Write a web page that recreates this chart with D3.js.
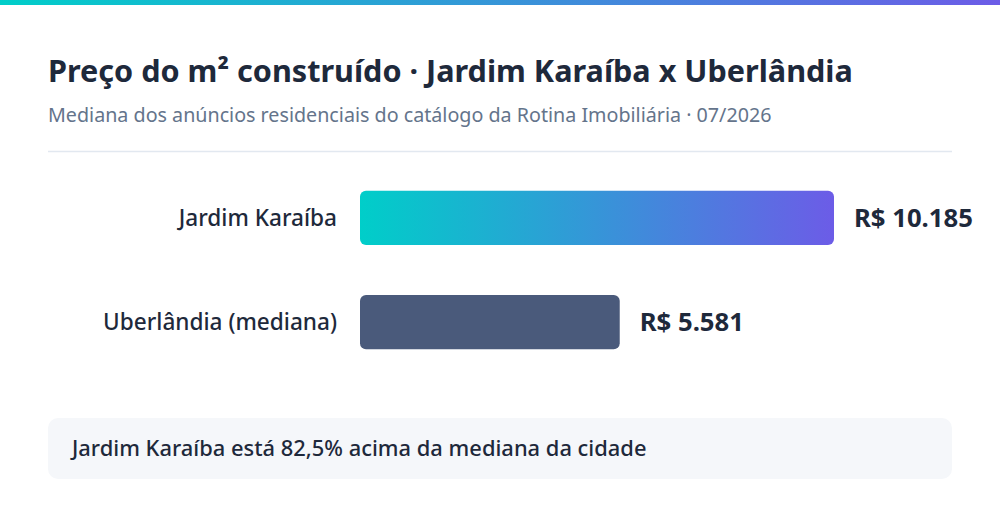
<!DOCTYPE html>
<html lang="pt-BR">
    <head>
        <meta charset="utf-8">
        <title>Preço do m² construído</title>
        <script type="text/javascript" src="https://d3js.org/d3.v7.min.js"></script>
        <style type="text/css">
            body{ margin: 0; background: #fff; }
            svg text{ font-family: "Noto Sans", "Open Sans", sans-serif; }
        </style>
    </head>
    <body>
        <svg id="chart" width="1000" height="520"></svg>
        <script type="text/javascript">
        //data
        const categories = ["Jardim Karaíba", "Uberlândia (mediana)"];
        const prices = [10185, 5581];
        const valueLabels = ["R$ 10.185", "R$ 5.581"];
        const title = "Preço do m² construído · Jardim Karaíba x Uberlândia";
        const subtitle = "Mediana dos anúncios residenciais do catálogo da Rotina Imobiliária · 07/2026";
        const note = "Jardim Karaíba está 82,5% acima da mediana da cidade";

        const svg = d3.select("#chart");
        const w = 1000;
        const defs = svg.append("defs");

        //gradients
        const topGrad = defs.append("linearGradient").attr("id", "topGrad");
        topGrad.append("stop").attr("offset", "0%").attr("stop-color", "#00cec9");
        topGrad.append("stop").attr("offset", "100%").attr("stop-color", "#6c5ce7");
        const barGrad = defs.append("linearGradient").attr("id", "barGrad");
        barGrad.append("stop").attr("offset", "0%").attr("stop-color", "#00cec9");
        barGrad.append("stop").attr("offset", "100%").attr("stop-color", "#6c5ce7");

        svg.append("rect").attr("x", 0).attr("y", 0).attr("width", w).attr("height", 5)
            .attr("fill", "url(#topGrad)");

        //header
        svg.append("text").attr("x", 48).attr("y", 82)
            .attr("font-size", 30.6).attr("font-weight", 700).attr("fill", "#1e293b")
            .text(title);
        svg.append("text").attr("x", 48).attr("y", 121.5)
            .attr("font-size", 19.7).attr("fill", "#64748b")
            .text(subtitle);
        svg.append("line").attr("x1", 48).attr("x2", 952).attr("y1", 151.5).attr("y2", 151.5)
            .attr("stroke", "#e2e8f0").attr("stroke-width", 1.5);

        //scales
        const x = d3.scaleLinear().domain([0, d3.max(prices)]).range([360, 834]);
        const y = d3.scaleBand().domain(categories).range([170, 370]).paddingInner(0.48).paddingOuter(0.2);

        const rows = svg.selectAll("g.row")
            .data(categories)
            .join("g")
            .attr("class", "row");

        rows.append("rect")
            .attr("x", x(0))
            .attr("y", d => y(d))
            .attr("width", (d, i) => x(prices[i]) - x(0))
            .attr("height", y.bandwidth())
            .attr("rx", 6)
            .attr("fill", (d, i) => i === 0 ? "url(#barGrad)" : "#4a5a7b");

        rows.append("text")
            .attr("x", 337)
            .attr("y", d => y(d) + y.bandwidth() / 2)
            .attr("dy", "0.35em")
            .attr("text-anchor", "end")
            .attr("font-size", 22.6).attr("font-weight", 500).attr("fill", "#1e293b")
            .text(d => d);

        rows.append("text")
            .attr("x", (d, i) => x(prices[i]) + 20)
            .attr("y", d => y(d) + y.bandwidth() / 2)
            .attr("dy", "0.35em")
            .attr("font-size", 25.7).attr("font-weight", 700).attr("fill", "#1e293b")
            .text((d, i) => valueLabels[i]);

        //callout
        svg.append("rect").attr("x", 48).attr("y", 418).attr("width", 904).attr("height", 61)
            .attr("rx", 10).attr("fill", "#f5f7fa");
        svg.append("text").attr("x", 72).attr("y", 448.5).attr("dy", "0.35em")
            .attr("font-size", 21.9).attr("font-weight", 500).attr("fill", "#1e293b")
            .text(note);
        </script>
    </body>
</html>
